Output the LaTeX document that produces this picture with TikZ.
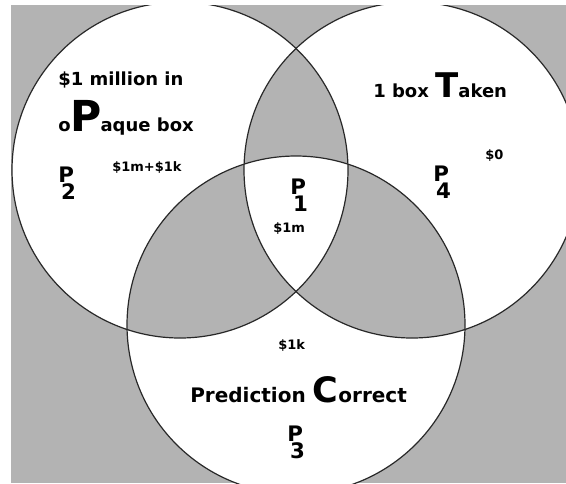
\documentclass[tikz,border=0pt]{standalone}
\usepackage{fontspec}
\setmainfont{DejaVu Sans}
\usepackage{graphicx}
\definecolor{bg}{RGB}{179,179,179}
\definecolor{edge}{RGB}{40,40,40}
\newcommand{\plab}[1]{P\llap{\raisebox{-0.82em}{#1}\kern-1.5pt}}
\begin{document}
\begin{tikzpicture}[x=0.75pt,y=-0.75pt,
  lbl/.style={inner sep=0pt, anchor=base west, font=\fontsize{13.5}{16}\selectfont\bfseries},
  pred/.style={inner sep=0pt, anchor=base west, font=\fontsize{15}{18}\selectfont\bfseries},
  money/.style={inner sep=0pt, anchor=base west, font=\fontsize{9.75}{12}\selectfont\bfseries},
  plbl/.style={inner sep=0pt, anchor=base west, font=\fontsize{16}{18}\selectfont\bfseries},
  ring/.style={line width=0.9pt, draw=edge}]
\useasboundingbox (0,0) rectangle (566,483);
\fill[white] (0,0) rectangle (566,483);
\coordinate (cl) at (180,170);
\coordinate (cr) at (412,170);
\coordinate (cb) at (296,325);
\begin{scope}
  \clip (11,5) rectangle (566,483);
  \fill[bg] (11,5) rectangle (566,483);
  \fill[white, even odd rule] (cl) circle[radius=126pt] (cr) circle[radius=126pt] (cb) circle[radius=126.75pt];
  \draw[ring] (cl) circle[radius=126pt];
  \draw[ring] (cr) circle[radius=126pt];
  \draw[ring] (cb) circle[radius=126.75pt];
\end{scope}
\node[lbl] (million) at (58,85) {\$1 million in};
\node[lbl] (opaque) at (58,131) {o{\fontsize{32}{32}\selectfont P}\kern-1pt aque box};
\node[lbl] (taken) at (373,97) {1 box {\fontsize{25.5}{26}\selectfont T}aken};
\node[pred] (correct) at (190,402) {Prediction {\fontsize{26.25}{27}\selectfont C}orrect};
\node[money] (m2) at (112,171) {\$1m+\$1k};
\node[money] (m4) at (485,159) {\$0};
\node[money] (m1) at (273,232) {\$1m};
\node[money] (m3) at (278,349) {\$1k};
\node[plbl] (p2) at (58,182) {\plab{2}};
\node[plbl] (p4) at (433,181) {\plab{4}};
\node[plbl] (p1) at (290,194) {\plab{1}};
\node[plbl] (p3) at (287,441) {\plab{3}};
\end{tikzpicture}
\end{document}
